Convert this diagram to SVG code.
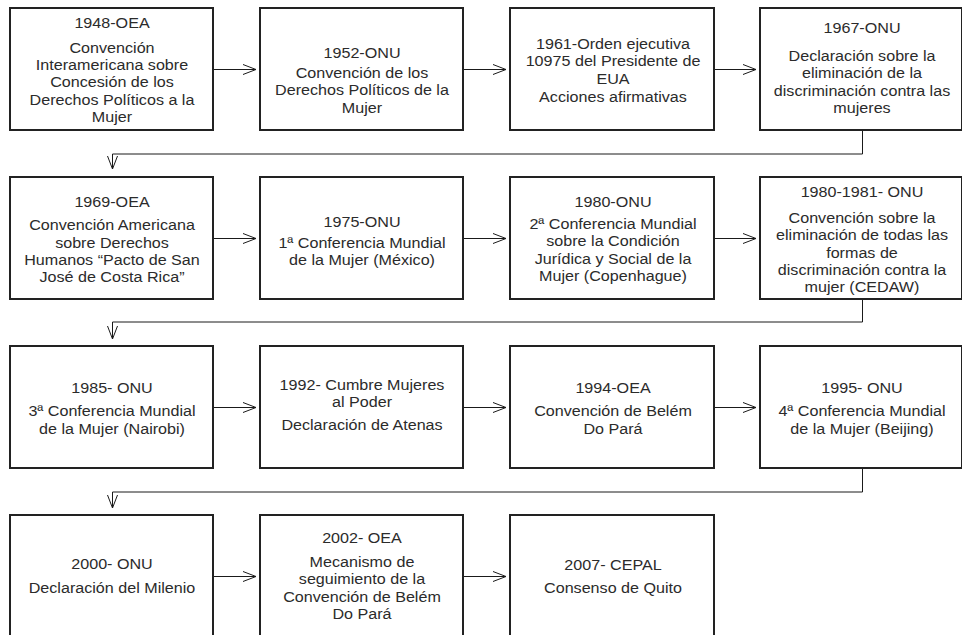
<svg xmlns="http://www.w3.org/2000/svg" width="962" height="635" viewBox="0 0 962 635">
<defs>
<style>
.box{fill:#fff;stroke:#222;stroke-width:2}
.t{font-family:"Liberation Sans",Arial,sans-serif;font-size:15px;fill:#2b2b2b;text-anchor:middle}
.c{fill:none;stroke:#1a1a1a;stroke-width:1}
</style>
<marker id="ah" markerUnits="userSpaceOnUse" markerWidth="16" markerHeight="12" refX="14" refY="6" orient="auto">
<path d="M1,1 L14,6 L1,11" fill="none" stroke="#1a1a1a" stroke-width="1"/>
</marker>
</defs>
<rect width="962" height="635" fill="#fff"/>

<g id="connectors">
<path class="c" marker-end="url(#ah)" d="M213,69.5 H256"/>
<path class="c" marker-end="url(#ah)" d="M463,69.5 H506"/>
<path class="c" marker-end="url(#ah)" d="M714,69.5 H756"/>
<path class="c" marker-end="url(#ah)" d="M862.5,131 V154 H112.5 V169"/>
<path class="c" marker-end="url(#ah)" d="M213,238.5 H256"/>
<path class="c" marker-end="url(#ah)" d="M463,238.5 H506"/>
<path class="c" marker-end="url(#ah)" d="M714,238.5 H756"/>
<path class="c" marker-end="url(#ah)" d="M862.5,300 V322 H112.5 V339"/>
<path class="c" marker-end="url(#ah)" d="M213,407.5 H256"/>
<path class="c" marker-end="url(#ah)" d="M463,407.5 H506"/>
<path class="c" marker-end="url(#ah)" d="M714,407.5 H756"/>
<path class="c" marker-end="url(#ah)" d="M862.5,469 V492 H112.5 V508"/>
<path class="c" marker-end="url(#ah)" d="M213,576.5 H256"/>
<path class="c" marker-end="url(#ah)" d="M463,576.5 H506"/>
</g>

<g id="n1948">
<rect class="box" x="10" y="8" width="203" height="122"/>
<g transform="translate(112,0) scale(1.075,1)">
<text class="t" x="0" y="28.5">1948-OEA</text>
<text class="t" x="0" y="53">Convención</text>
<text class="t" x="0" y="70.2">Interamericana sobre</text>
<text class="t" x="0" y="87.4">Concesión de los</text>
<text class="t" x="0" y="104.6">Derechos Políticos a la</text>
<text class="t" x="0" y="121.8">Mujer</text>
</g>
</g>

<g id="n1952">
<rect class="box" x="260" y="8" width="203" height="122"/>
<g transform="translate(362,0) scale(1.075,1)">
<text class="t" x="0" y="58">1952-ONU</text>
<text class="t" x="0" y="78">Convención de los</text>
<text class="t" x="0" y="95.3">Derechos Políticos de la</text>
<text class="t" x="0" y="112.6">Mujer</text>
</g>
</g>

<g id="n1961">
<rect class="box" x="510" y="8" width="204" height="122"/>
<g transform="translate(613,0) scale(1.075,1)">
<text class="t" x="0" y="49">1961-Orden ejecutiva</text>
<text class="t" x="0" y="66.3">10975 del Presidente de</text>
<text class="t" x="0" y="83.6">EUA</text>
<text class="t" x="0" y="102.5">Acciones afirmativas</text>
</g>
</g>

<g id="n1967">
<rect class="box" x="760" y="8" width="202" height="122"/>
<g transform="translate(862,0) scale(1.075,1)">
<text class="t" x="0" y="33">1967-ONU</text>
<text class="t" x="0" y="61">Declaración sobre la</text>
<text class="t" x="0" y="78.3">eliminación de la</text>
<text class="t" x="0" y="95.6">discriminación contra las</text>
<text class="t" x="0" y="112.9">mujeres</text>
</g>
</g>

<g id="n1969">
<rect class="box" x="10" y="177" width="203" height="122"/>
<g transform="translate(112,0) scale(1.075,1)">
<text class="t" x="0" y="207">1969-OEA</text>
<text class="t" x="0" y="230.5">Convención Americana</text>
<text class="t" x="0" y="247.8">sobre Derechos</text>
<text class="t" x="0" y="265.1">Humanos “Pacto de San</text>
<text class="t" x="0" y="282.4">José de Costa Rica”</text>
</g>
</g>

<g id="n1975">
<rect class="box" x="260" y="177" width="203" height="122"/>
<g transform="translate(362,0) scale(1.075,1)">
<text class="t" x="0" y="227">1975-ONU</text>
<text class="t" x="0" y="248">1ª Conferencia Mundial</text>
<text class="t" x="0" y="265.3">de la Mujer (México)</text>
</g>
</g>

<g id="n1980">
<rect class="box" x="510" y="177" width="204" height="122"/>
<g transform="translate(613,0) scale(1.075,1)">
<text class="t" x="0" y="207">1980-ONU</text>
<text class="t" x="0" y="229">2ª Conferencia Mundial</text>
<text class="t" x="0" y="246.3">sobre la Condición</text>
<text class="t" x="0" y="263.6">Jurídica y Social de la</text>
<text class="t" x="0" y="280.9">Mujer (Copenhague)</text>
</g>
</g>

<g id="n1980-1981">
<rect class="box" x="760" y="177" width="202" height="122"/>
<g transform="translate(862,0) scale(1.075,1)">
<text class="t" x="0" y="197.5">1980-1981- ONU</text>
<text class="t" x="0" y="223">Convención sobre la</text>
<text class="t" x="0" y="240.3">eliminación de todas las</text>
<text class="t" x="0" y="257.6">formas de</text>
<text class="t" x="0" y="274.9">discriminación contra la</text>
<text class="t" x="0" y="292.2">mujer (CEDAW)</text>
</g>
</g>

<g id="n1985">
<rect class="box" x="10" y="346" width="203" height="122"/>
<g transform="translate(112,0) scale(1.075,1)">
<text class="t" x="0" y="393.5">1985- ONU</text>
<text class="t" x="0" y="416.5">3ª Conferencia Mundial</text>
<text class="t" x="0" y="433.8">de la Mujer (Nairobi)</text>
</g>
</g>

<g id="n1992">
<rect class="box" x="260" y="346" width="203" height="122"/>
<g transform="translate(362,0) scale(1.075,1)">
<text class="t" x="0" y="390">1992- Cumbre Mujeres</text>
<text class="t" x="0" y="407.3">al Poder</text>
<text class="t" x="0" y="430.5">Declaración de Atenas</text>
</g>
</g>

<g id="n1994">
<rect class="box" x="510" y="346" width="204" height="122"/>
<g transform="translate(613,0) scale(1.075,1)">
<text class="t" x="0" y="393.5">1994-OEA</text>
<text class="t" x="0" y="416.5">Convención de Belém</text>
<text class="t" x="0" y="433.8">Do Pará</text>
</g>
</g>

<g id="n1995">
<rect class="box" x="760" y="346" width="202" height="122"/>
<g transform="translate(862,0) scale(1.075,1)">
<text class="t" x="0" y="393.5">1995- ONU</text>
<text class="t" x="0" y="416.5">4ª Conferencia Mundial</text>
<text class="t" x="0" y="433.8">de la Mujer (Beijing)</text>
</g>
</g>

<g id="n2000">
<rect class="box" x="10" y="515" width="203" height="124"/>
<g transform="translate(112,0) scale(1.075,1)">
<text class="t" x="0" y="569.5">2000- ONU</text>
<text class="t" x="0" y="593">Declaración del Milenio</text>
</g>
</g>

<g id="n2002">
<rect class="box" x="260" y="515" width="203" height="124"/>
<g transform="translate(362,0) scale(1.075,1)">
<text class="t" x="0" y="543">2002- OEA</text>
<text class="t" x="0" y="567">Mecanismo de</text>
<text class="t" x="0" y="584.3">seguimiento de la</text>
<text class="t" x="0" y="601.6">Convención de Belém</text>
<text class="t" x="0" y="618.9">Do Pará</text>
</g>
</g>

<g id="n2007">
<rect class="box" x="510" y="515" width="204" height="124"/>
<g transform="translate(613,0) scale(1.075,1)">
<text class="t" x="0" y="570">2007- CEPAL</text>
<text class="t" x="0" y="593">Consenso de Quito</text>
</g>
</g>
</svg>
